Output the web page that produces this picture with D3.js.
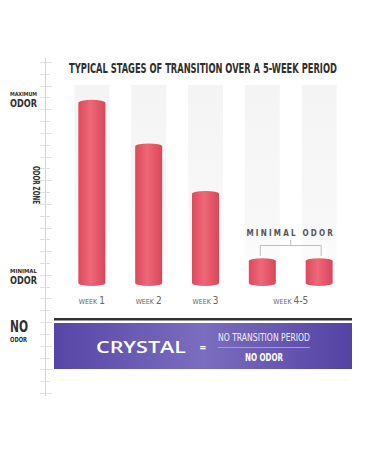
<!DOCTYPE html>
<html>
<head>
<meta charset="utf-8">
<script src="https://cdn.jsdelivr.net/npm/d3@7"></script>
<style>
  html, body { margin: 0; padding: 0; background: #fff; }
  svg { display: block; }
</style>
</head>
<body>
<div id="chart"></div>
<script>
// chart data
const weeks = ["week1", "week2", "week3", "week4", "week5"];
const odorLevels = [91, 69, 45, 11, 11];
const weekLabels = [
  { num: "1", at: ["week1"] },
  { num: "2", at: ["week2"] },
  { num: "3", at: ["week3"] },
  { num: "4-5", at: ["week4", "week5"] },
];
const title = "TYPICAL STAGES OF TRANSITION OVER A 5-WEEK PERIOD";

const width = 375;
const height = 450;
const condensed = "'DejaVu Sans Condensed', 'Roboto', sans-serif";

const svg = d3
  .select("#chart")
  .append("svg")
  .attr("width", width)
  .attr("height", height);

const defs = svg.append("defs");

const barGrad = defs
  .append("linearGradient")
  .attr("id", "barGrad")
  .attr("x1", "0%")
  .attr("x2", "100%");
barGrad.append("stop").attr("offset", "0%").attr("stop-color", "#dc4a5d");
barGrad.append("stop").attr("offset", "45%").attr("stop-color", "#ee6878");
barGrad.append("stop").attr("offset", "100%").attr("stop-color", "#d8475a");

const colGrad = defs
  .append("linearGradient")
  .attr("id", "colGrad")
  .attr("x1", "0%")
  .attr("x2", "0%")
  .attr("y1", "0%")
  .attr("y2", "100%");
colGrad.append("stop").attr("offset", "0%").attr("stop-color", "#f4f4f4");
colGrad.append("stop").attr("offset", "70%").attr("stop-color", "#f8f8f8");
colGrad.append("stop").attr("offset", "100%").attr("stop-color", "#ffffff");

const boxGrad = defs
  .append("linearGradient")
  .attr("id", "boxGrad")
  .attr("x1", "0%")
  .attr("x2", "100%");
boxGrad.append("stop").attr("offset", "0%").attr("stop-color", "#5746a6");
boxGrad.append("stop").attr("offset", "50%").attr("stop-color", "#7b6dbf");
boxGrad.append("stop").attr("offset", "100%").attr("stop-color", "#5443a3");

// scales
const x = d3
  .scaleBand()
  .domain(weeks)
  .range([63, 348])
  .paddingInner(0.385)
  .paddingOuter(0.2);

const y = d3.scaleLinear().domain([0, 100]).range([283, 85]);

const barW = 27;

// squeeze a text horizontally to a given width
function fitWidth(sel, cx, cy, w) {
  const len = sel.node().getComputedTextLength();
  sel.attr("transform", `translate(${cx},${cy}) scale(${w / len},1)`);
}

// ruler on the left
const ruler = d3.scaleLinear().domain([0, 28]).range([62, 393]);
const rulerG = svg.append("g");
rulerG
  .append("line")
  .attr("x1", 45.5)
  .attr("x2", 45.5)
  .attr("y1", 58)
  .attr("y2", 396)
  .attr("stroke", "#d2d2d2")
  .attr("stroke-width", 1);
rulerG
  .selectAll("line.tick")
  .data(d3.range(0, 29))
  .join("line")
  .attr("class", "tick")
  .attr("x1", 40)
  .attr("x2", (d) => (d % 2 === 0 ? 52 : 50))
  .attr("y1", (d) => Math.round(ruler(d)) + 0.5)
  .attr("y2", (d) => Math.round(ruler(d)) + 0.5)
  .attr("stroke", "#e0e0e0")
  .attr("stroke-width", 1);

// title
const titleText = svg
  .append("text")
  .attr("text-anchor", "middle")
  .style("font-family", condensed)
  .style("font-weight", "bold")
  .style("font-size", "13.5px")
  .style("fill", "#2f2f2f")
  .text(title);
fitWidth(titleText, 203, 73, 268);

// background columns
svg
  .append("g")
  .selectAll("rect")
  .data(weeks)
  .join("rect")
  .attr("x", (d) => x(d))
  .attr("y", 85)
  .attr("width", x.bandwidth())
  .attr("height", 200)
  .attr("fill", "url(#colGrad)");

// cylinder bars
function cylinder(cx, top, bottom, w) {
  const r = w / 2;
  const ry = 3;
  const l = cx - r;
  const rr = cx + r;
  return `M${l},${top} A${r},${ry} 0 0 1 ${rr},${top} L${rr},${bottom} A${r},${ry} 0 0 1 ${l},${bottom} Z`;
}

const data = weeks.map((w, i) => ({ week: w, value: odorLevels[i] }));

svg
  .append("g")
  .selectAll("path")
  .data(data)
  .join("path")
  .attr("d", (d) =>
    cylinder(x(d.week) + x.bandwidth() / 2, y(d.value), y(0), barW)
  )
  .attr("fill", "url(#barGrad)");

// week labels
const wl = svg
  .append("g")
  .selectAll("text")
  .data(weekLabels)
  .join("text")
  .attr("x", (d) => {
    const cs = d.at.map((w) => x(w) + x.bandwidth() / 2);
    return d3.mean(cs);
  })
  .attr("y", 304)
  .attr("text-anchor", "middle")
  .style("font-family", condensed)
  .style("fill", "#666");
wl.append("tspan").style("font-size", "7px").text("WEEK ");
wl.append("tspan").style("font-size", "10px").text((d) => d.num);

// minimal odor annotation
const c4 = x("week4") + x.bandwidth() / 2;
const c5 = x("week5") + x.bandwidth() / 2;
const ann = svg.append("g");
ann
  .append("text")
  .attr("x", (c4 + c5) / 2)
  .attr("y", 236)
  .attr("text-anchor", "middle")
  .style("font-family", condensed)
  .style("font-weight", "bold")
  .style("font-size", "8px")
  .style("letter-spacing", "2.2px")
  .style("fill", "#555")
  .text("MINIMAL ODOR");
ann
  .append("path")
  .attr(
    "d",
    `M${c4 - 2},256 V245.5 H${c5 + 2} V256 M${(c4 + c5) / 2},245.5 V240`
  )
  .attr("fill", "none")
  .attr("stroke", "#bdbdbd")
  .attr("stroke-width", 1);

// left labels
const left = svg.append("g").style("font-family", condensed).style("fill", "#2f2f2f");
function leftLabel(small, big, yTop, bigSize) {
  left
    .append("text")
    .attr("x", 10)
    .attr("y", yTop)
    .attr("textLength", 27)
    .attr("lengthAdjust", "spacingAndGlyphs")
    .style("font-size", "5.5px")
    .style("font-weight", "bold")
    .text(small);
  left
    .append("text")
    .attr("x", 10)
    .attr("y", yTop + 11)
    .attr("textLength", 27)
    .attr("lengthAdjust", "spacingAndGlyphs")
    .style("font-size", bigSize)
    .style("font-weight", "bold")
    .text(big);
}
leftLabel("MAXIMUM", "ODOR", 96, "11px");
leftLabel("MINIMAL", "ODOR", 273, "11px");

left
  .append("text")
  .attr("x", 10)
  .attr("y", 332)
  .attr("textLength", 18)
  .attr("lengthAdjust", "spacingAndGlyphs")
  .style("font-size", "16px")
  .style("font-weight", "bold")
  .text("NO");
left
  .append("text")
  .attr("x", 10)
  .attr("y", 342)
  .attr("textLength", 17)
  .attr("lengthAdjust", "spacingAndGlyphs")
  .style("font-size", "7px")
  .style("font-weight", "bold")
  .text("ODOR");

left
  .append("text")
  .attr("transform", "translate(33,185) rotate(90)")
  .attr("text-anchor", "middle")
  .attr("textLength", 38)
  .attr("lengthAdjust", "spacingAndGlyphs")
  .style("font-size", "8px")
  .style("font-weight", "bold")
  .text("ODOR ZONE");

// crystal banner
svg
  .append("rect")
  .attr("x", 54)
  .attr("y", 318)
  .attr("width", 298)
  .attr("height", 2.5)
  .attr("fill", "#333");
svg
  .append("rect")
  .attr("x", 54)
  .attr("y", 323)
  .attr("width", 298)
  .attr("height", 46)
  .attr("fill", "url(#boxGrad)");
svg
  .append("line")
  .attr("x1", 58)
  .attr("x2", 350)
  .attr("y1", 380)
  .attr("y2", 380)
  .attr("stroke", "#fbf7e4")
  .attr("stroke-width", 1);

svg
  .append("text")
  .attr("x", 96)
  .attr("y", 353)
  .attr("textLength", 90)
  .attr("lengthAdjust", "spacingAndGlyphs")
  .style("font-family", "'Open Sans', 'DejaVu Sans', sans-serif")
  .style("font-weight", "600")
  .style("font-size", "17px")
  .style("fill", "#fff")
  .text("CRYSTAL");
svg
  .append("text")
  .attr("x", 203)
  .attr("y", 351)
  .attr("text-anchor", "middle")
  .style("font-family", "'Open Sans', sans-serif")
  .style("font-weight", "bold")
  .style("font-size", "11px")
  .style("fill", "#fff")
  .text("=");
svg
  .append("text")
  .attr("x", 218)
  .attr("y", 341)
  .attr("textLength", 92)
  .attr("lengthAdjust", "spacingAndGlyphs")
  .style("font-family", condensed)
  .style("font-size", "11px")
  .style("fill", "#f1eefb")
  .text("NO TRANSITION PERIOD");
svg
  .append("line")
  .attr("x1", 218)
  .attr("x2", 310)
  .attr("y1", 347.5)
  .attr("y2", 347.5)
  .attr("stroke", "#a69ad6")
  .attr("stroke-width", 1);
svg
  .append("text")
  .attr("x", 264)
  .attr("y", 361)
  .attr("text-anchor", "middle")
  .attr("textLength", 38)
  .attr("lengthAdjust", "spacingAndGlyphs")
  .style("font-family", condensed)
  .style("font-weight", "bold")
  .style("font-size", "11px")
  .style("fill", "#fff")
  .text("NO ODOR");
</script>
</body>
</html>
